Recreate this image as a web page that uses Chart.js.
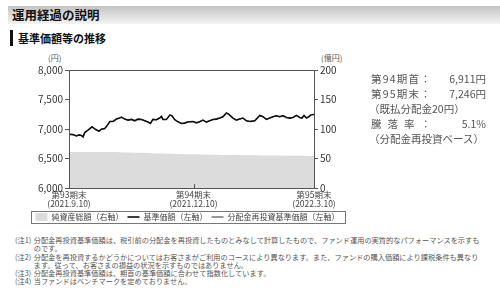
<!DOCTYPE html>
<html lang="ja">
<head>
<meta charset="utf-8">
<script src="https://cdn.jsdelivr.net/npm/chart.js@4.4.1/dist/chart.umd.min.js"></script>
<style>
body{margin:0;width:500px;height:302px;overflow:hidden;background:#fff;position:relative;
  font-family:"Noto Sans CJK JP","Noto Sans",sans-serif;color:#444}
.abs{position:absolute;white-space:nowrap}
#band{left:8px;top:6px;width:492px;height:18px;background:linear-gradient(to bottom,#c4c4c4,#f3f3f3)}
#title{left:12px;top:5px;font-size:12.5px;font-weight:bold;color:#111;line-height:20px}
#barL{left:10px;top:30px;width:3px;height:16px;background:#111}
#sub{left:18px;top:29px;font-size:11px;font-weight:bold;color:#111;line-height:18px}
.unit{font-size:8px;color:#555;line-height:10px}
#wrap{left:0;top:50px;width:375px;height:181px}
.info{font-size:10.5px;color:#555;line-height:14px}
#notes{left:15px;top:236px;transform:scale(0.72);transform-origin:0 0}
.note{position:relative;font-size:10px;color:#555;line-height:11.4px;white-space:nowrap;padding-left:26px}
.note b{position:absolute;left:0;top:0;font-weight:normal}
</style>
</head>
<body>
<div id="band" class="abs"></div>
<div id="title" class="abs">運用経過の説明</div>
<div id="barL" class="abs"></div>
<div id="sub" class="abs">基準価額等の推移</div>
<div class="abs unit" style="left:48px;top:53px">(円)</div>
<div class="abs unit" style="left:321px;top:53px">(億円)</div>

<div id="wrap" class="abs"><canvas id="c" width="375" height="181"></canvas></div>

<div class="abs info" style="left:371px;top:72px;letter-spacing:1.2px">第94期首：</div>
<div class="abs info" style="right:14px;top:72px">6,911円</div>
<div class="abs info" style="left:371px;top:87px;letter-spacing:1.2px">第95期末：</div>
<div class="abs info" style="right:14px;top:87px">7,246円</div>
<div class="abs info" style="left:369px;top:102px">（既払分配金20円）</div>
<div class="abs info" style="left:371px;top:117px;letter-spacing:6px">騰落率<span style="letter-spacing:0">：</span></div>
<div class="abs info" style="right:14px;top:117px">5.1%</div>
<div class="abs info" style="left:369px;top:132px">（分配金再投資ベース）</div>

<div id="notes" class="abs">
  <div class="note"><b>(注1)</b>分配金再投資基準価額は、税引前の分配金を再投資したものとみなして計算したもので、ファンド運用の実質的なパフォーマンスを示すも</div>
  <div class="note">のです。</div>
  <div class="note"><b>(注2)</b>分配金を再投資するかどうかについてはお客さまがご利用のコースにより異なります。また、ファンドの購入価額により課税条件も異なり</div>
  <div class="note">ます。従って、お客さまの損益の状況を示すものではありません。</div>
  <div class="note"><b>(注3)</b>分配金再投資基準価額は、期首の基準価額に合わせて指数化しています。</div>
  <div class="note"><b>(注4)</b>当ファンドはベンチマークを定めておりません。</div>
</div>

<script>
// 営業日 (第93期末 = 0, 第95期末 = 120)
const navDays = [0, 2.0, 3.6, 4.9, 6.1, 6.9, 7.7, 9.3, 11.3, 13.1,
  14.7, 15.9, 17.5, 18.6, 20.0, 21.6, 23.2, 24.8, 25.7, 27.3,
  28.9, 30.6, 32.2, 33.8, 35.5, 37.1, 38.7, 39.9, 41.1, 42.8,
  44.4, 45.3, 46.0, 47.7, 49.4, 50.4, 51.8, 53.4, 55.1, 56.7,
  58.3, 59.1,
  60.7, 62.4, 64.0, 65.6, 67.3, 68.9, 70.5, 72.2, 73.8, 75.4,
  77.1, 78.2, 80.3, 82.0, 83.6, 85.2, 86.9, 88.5, 91.0, 93.4,
  95.0, 96.7, 98.3, 99.9, 101.6, 103.2, 104.8, 106.5, 108.1, 109.7,
  111.4, 113.0, 114.1, 115.1, 116.3, 117.4, 118.7, 120];
// 基準価額 (円)
const nav = [6911, 6905, 6883, 6900, 6889, 6866, 6940, 6980, 7037, 6991,
  6963, 6997, 7008, 7054, 7128, 7128, 7168, 7185, 7202, 7168,
  7151, 7162, 7139, 7168, 7162, 7139, 7117, 7094, 7162, 7157,
  7185, 7213, 7162, 7162, 7236, 7225, 7157, 7122, 7094, 7100,
  7122, 7122,
  7128, 7105, 7122, 7151, 7117, 7139, 7162, 7168, 7185, 7208,
  7270, 7253, 7185, 7151, 7168, 7185, 7139, 7128, 7139, 7230,
  7208, 7162, 7185, 7208, 7225, 7208, 7225, 7196, 7185, 7196,
  7230, 7196, 7185, 7230, 7185, 7208, 7242, 7246];
// 分配金再投資基準価額 (円) - 図上では基準価額とほぼ重なっている
const navReinvested = nav;
// 純資産総額 (億円)
const assetDays = [0, 10, 20, 30, 40, 50, 60, 70, 80, 90, 100, 110, 120];
const netAssets = [61.0, 61.2, 61.0, 60.0, 59.0, 58.0, 57.0, 56.5, 56.0, 55.5, 55.0, 54.5, 54.2];

const periodTickDays = [0, 61, 120];
const periodTickLabels = [['第93期末', '(2021.9.10)'], ['第94期末', '(2021.12.10)'], ['第95期末', '(2022.3.10)']];
const seriesNames = ['純資産総額（右軸）', '基準価額（左軸）', '分配金再投資基準価額（左軸）'];

function pts(xs, ys) {
  return xs.map((x, i) => ({x: x, y: ys[i]}));
}

// 枠線、第94期末の目盛り、凡例の枠
const framePlugin = {
  id: 'frame',
  afterDraw(chart) {
    const ctx = chart.ctx, a = chart.chartArea;
    ctx.save();
    ctx.strokeStyle = '#555';
    ctx.lineWidth = 1;
    ctx.strokeRect(Math.round(a.left) + 0.5, Math.round(a.top) + 0.5,
      Math.round(a.right - a.left), Math.round(a.bottom - a.top));
    const mx = Math.round(chart.scales.x.getPixelForValue(periodTickDays[1])) + 0.5;
    ctx.beginPath();
    ctx.moveTo(mx, a.bottom);
    ctx.lineTo(mx, a.bottom - 4);
    ctx.stroke();

    const boxes = chart.legend.legendHitBoxes;
    if (boxes && boxes.length) {
      const l = Math.min(...boxes.map(b => b.left)) - 5;
      const r = Math.max(...boxes.map(b => b.left + b.width)) + 5;
      const t = Math.min(...boxes.map(b => b.top)) - 2;
      const bt = Math.max(...boxes.map(b => b.top + b.height)) + 2;
      ctx.strokeStyle = '#777';
      ctx.strokeRect(Math.round(l) + 0.5, Math.round(t) + 0.5, Math.round(r - l), Math.round(bt - t));
    }
    ctx.restore();
  }
};

const tickFont = {family: '"Noto Sans CJK JP", sans-serif', size: 10};

new Chart(document.getElementById('c'), {
  type: 'line',
  data: {
    datasets: [
      {
        label: seriesNames[0],
        data: pts(assetDays, netAssets),
        yAxisID: 'y1',
        fill: 'start',
        backgroundColor: '#dcdcdc',
        borderColor: '#dcdcdc',
        borderWidth: 0,
        pointRadius: 0,
        pointStyle: 'rect',
        tension: 0.3,
        order: 3
      },
      {
        label: seriesNames[1],
        data: pts(navDays, nav),
        yAxisID: 'y',
        borderColor: '#111',
        backgroundColor: '#111',
        borderWidth: 1.6,
        pointRadius: 0,
        pointStyle: 'line',
        fill: false,
        order: 1
      },
      {
        label: seriesNames[2],
        data: pts(navDays, navReinvested),
        yAxisID: 'y',
        borderColor: '#333',
        backgroundColor: '#333',
        borderWidth: 1,
        pointRadius: 0,
        pointStyle: 'line',
        fill: false,
        order: 2
      }
    ]
  },
  options: {
    responsive: false,
    animation: false,
    devicePixelRatio: 1,
    layout: {padding: {top: 20, left: 0, right: 0, bottom: 0}},
    plugins: {
      tooltip: {enabled: false},
      legend: {
        position: 'bottom',
        labels: {
          usePointStyle: true,
          pointStyleWidth: 12,
          boxHeight: 9,
          padding: 4,
          color: '#444',
          font: {family: '"Noto Sans CJK JP", sans-serif', size: 8},
          sort: (a, b) => a.datasetIndex - b.datasetIndex
        }
      }
    },
    scales: {
      x: {
        type: 'linear',
        min: 0,
        max: 120,
        grid: {display: false, drawTicks: false},
        border: {display: false},
        afterBuildTicks: s => { s.ticks = periodTickDays.map(v => ({value: v})); },
        afterFit: s => { s.height = 21; },
        ticks: {
          autoSkip: false,
          maxRotation: 0,
          padding: 2,
          color: '#444',
          font: {family: '"Noto Sans CJK JP", sans-serif', size: 8.5, lineHeight: 1.1},
          callback: v => periodTickLabels[periodTickDays.indexOf(v)]
        }
      },
      y: {
        position: 'left',
        min: 6000,
        max: 8000,
        grid: {drawOnChartArea: false, tickLength: 4, color: '#555'},
        border: {display: false},
        afterFit: s => { s.width = 69; },
        ticks: {
          stepSize: 500,
          padding: 2,
          color: '#333',
          font: tickFont,
          callback: v => v.toLocaleString('en-US')
        }
      },
      y1: {
        position: 'right',
        min: 0,
        max: 200,
        grid: {drawOnChartArea: false, tickLength: 4, color: '#555'},
        border: {display: false},
        afterFit: s => { s.width = 61; },
        ticks: {stepSize: 50, padding: 2, color: '#333', font: tickFont}
      }
    }
  },
  plugins: [framePlugin]
});
</script>
</body>
</html>
